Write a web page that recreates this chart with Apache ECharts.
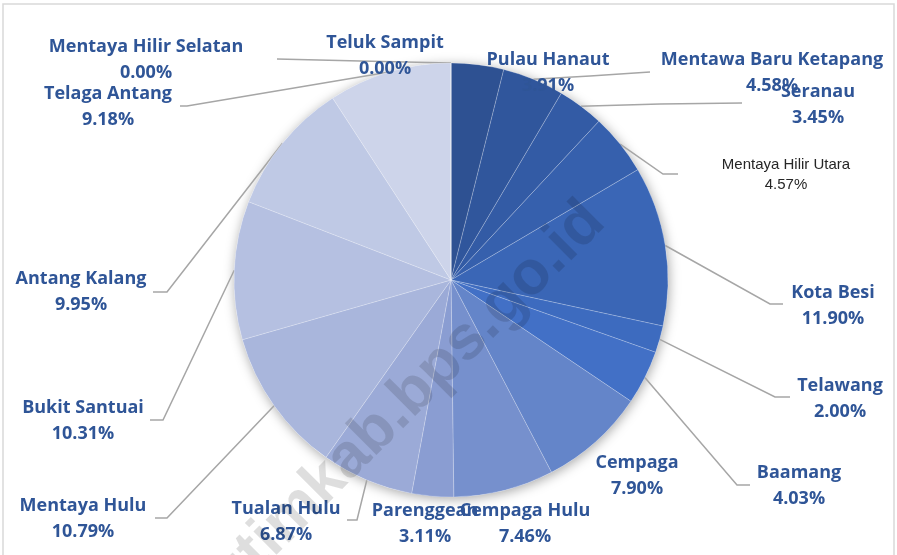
<!DOCTYPE html>
<html>
<head>
<meta charset="utf-8">
<script src="https://cdn.jsdelivr.net/npm/echarts@6/dist/echarts.min.js"></script>
<style>
html,body{margin:0;padding:0;background:#fff;}
#chart{width:897px;height:555px;}
</style>
</head>
<body>
<div id="chart"></div>
<script>
// kecamatan, searah jarum jam mulai dari atas
var kecamatan = ['Pulau Hanaut','Mentawa Baru Ketapang','Seranau','Mentaya Hilir Utara','Kota Besi','Telawang','Baamang','Cempaga','Cempaga Hulu','Parenggean','Tualan Hulu','Mentaya Hulu','Bukit Santuai','Antang Kalang','Telaga Antang','Mentaya Hilir Selatan','Teluk Sampit'];
var persen = [3.91,4.58,3.45,4.57,11.90,2.00,4.03,7.90,7.46,3.11,6.87,10.79,10.31,9.95,9.18,0.00,0.00];

// warna tiap potongan
var warna = ['#2E5192','#30569C','#335BA5','#3660AD','#3A66B6','#3D6BBF','#4270C6','#6485C9','#7690CD','#8A9DD2','#9BAAD7','#A9B6DC','#B5C0E1','#BFC9E5','#CDD4EA','#CDD4EA','#D3D9EC'];

// posisi label [x tengah, y tengah] dan titik garis penunjuk (null = tanpa garis)
var posLabel = [[548,73],[772,73],[818,105],[786,175],[833,306],[840,399],[799,486],[637,476],[525,524],[425,524],[286,522],[83,519],[83,421],[81,292],[108,107],[146,60],[385,56]];
var garis = [
  null,
  [[590,76],[650,72]],
  [[660,104],[742,103]],
  [[663,174],[678,174]],
  [[770,304],[783,304]],
  [[775,397],[790,397]],
  [[737,485],[750,485]],
  null, null, null,
  [[357,520],[347,520]],
  [[167,518],[155,518]],
  [[163,420],[150,420]],
  [[167,292],[153,292]],
  [[187,106],[180,106]],
  [[360,61],[277,59]],
  null
];

var total = 0;
for (var i = 0; i < persen.length; i++) total += persen[i];

var data = [];
for (var i = 0; i < kecamatan.length; i++) {
  var item = {
    name: kecamatan[i],
    value: persen[i],
    itemStyle: {color: warna[i]},
    labelLine: {show: garis[i] != null}
  };
  if (kecamatan[i] == 'Mentaya Hilir Utara') {
    item.label = {fontFamily: '"Liberation Sans", Arial, sans-serif', fontWeight: 'normal', fontSize: 15, color: '#262626', lineHeight: 20};
  }
  data.push(item);
}

var myChart = echarts.init(document.getElementById('chart'), null, {renderer: 'canvas'});
var option = {
  animation: false,
  backgroundColor: '#fff',
  graphic: [
    {type: 'rect', shape: {x: 3, y: 4, width: 891, height: 570}, style: {fill: 'none', stroke: '#D9D9D9', lineWidth: 1.5}, silent: true, z: 0},
    {type: 'text', x: 617, y: 234, rotation: Math.PI / 4, z: 100, silent: true,
      style: {text: 'kutimkab.bps.go.id', align: 'right', verticalAlign: 'bottom', font: 'bold 62px "Liberation Sans", Arial, sans-serif', fill: 'rgba(0,0,0,0.13)'}}
  ],
  series: [
    {
      // bayangan di belakang lingkaran
      type: 'pie', silent: true, z: 1,
      center: [451, 280], radius: 217,
      label: {show: false}, labelLine: {show: false},
      itemStyle: {color: '#fff', shadowBlur: 12, shadowColor: 'rgba(0,0,0,0.35)', shadowOffsetX: 1, shadowOffsetY: 2},
      data: [{value: total, name: ''}]
    },
    {
      type: 'pie', z: 2,
      center: [451, 280], radius: 217,
      startAngle: 90, clockwise: true,
      avoidLabelOverlap: false,
      itemStyle: {borderColor: 'rgba(255,255,255,0.35)', borderWidth: 0.6},
      label: {
        show: true, position: 'outside',
        formatter: function (p) { return p.name + '\n' + p.value.toFixed(2) + '%'; },
        fontFamily: '"Open Sans", sans-serif', fontWeight: 'bold', fontSize: 18,
        color: '#2F5597', lineHeight: 26, align: 'center'
      },
      labelLine: {show: true, length: 10, length2: 10, lineStyle: {color: '#A6A6A6', width: 1.5}},
      labelLayout: function (p) {
        var pos = posLabel[p.dataIndex];
        var res = {x: pos[0], y: pos[1], align: 'center', verticalAlign: 'middle'};
        var g = garis[p.dataIndex];
        if (g && p.labelLinePoints) {
          res.labelLinePoints = [p.labelLinePoints[0], g[0], g[1]];
        }
        return res;
      },
      data: data
    }
  ]
};
if (option && typeof option === 'object') {
  myChart.setOption(option, true);
}
</script>
</body>
</html>
